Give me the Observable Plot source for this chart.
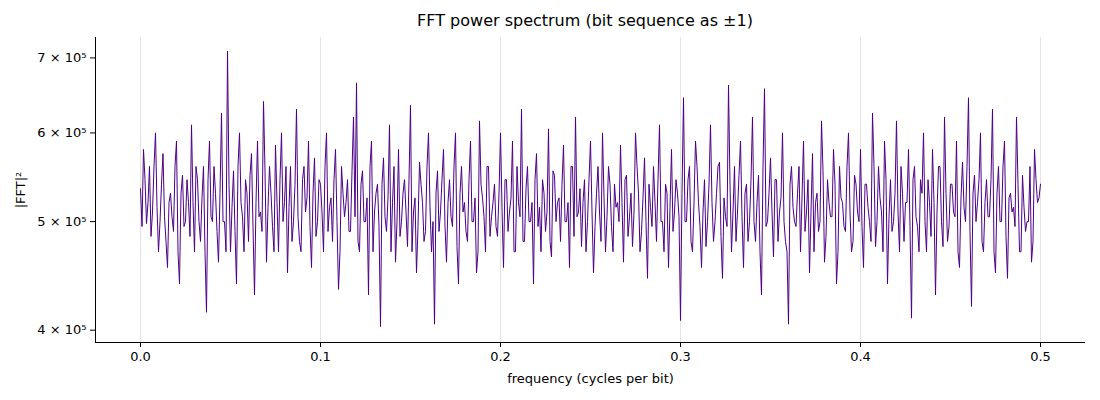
<!DOCTYPE html>
<html><head><meta charset="utf-8">
<script src="https://cdn.jsdelivr.net/npm/d3@7"></script>
<script src="https://cdn.jsdelivr.net/npm/@observablehq/plot@0.6"></script>
<style>body{margin:0;background:#fff;font-family:"DejaVu Sans",sans-serif}
#t{height:30px;line-height:30px;padding-top:6px;box-sizing:border-box;text-align:center;font-size:16px;padding-left:70px}</style>
</head><body><div id="t">FFT power spectrum (bit sequence as ±1)</div><div id="c"></div>
<script>
const freqStep = 1/1200;
// values (thousands) at even bins
const powerEvenK = [
535,580,498,560,510,600,470,540,505,455,530,490,590,440,550,500,520,610,470,545,
480,560,415,590,500,530,460,625,500,710,470,555,440,600,505,545,480,575,430,590,
510,640,460,560,495,585,470,600,520,450,560,500,630,480,545,510,590,455,570,500,
540,470,600,515,480,580,435,560,505,545,490,620,665,470,555,500,430,590,510,540,
403,570,490,610,520,460,580,500,545,475,635,510,450,565,520,490,600,470,405,555,
510,580,460,545,495,600,440,560,520,480,590,500,450,615,525,470,560,505,540,485,
600,455,545,510,590,470,520,630,480,560,500,440,575,515,545,490,605,465,550,520,
480,585,500,455,560,620,510,475,545,500,590,450,530,510,600,470,560,495,540,520,
585,460,550,505,475,600,530,490,570,445,515,560,480,610,500,540,455,580,510,530,
408,645,500,560,470,590,520,455,545,500,610,480,530,565,445,505,662,470,560,510,
590,455,540,500,620,480,550,430,657,500,570,465,545,510,600,480,405,560,500,530,
470,590,510,450,575,520,490,615,460,545,505,580,440,560,520,490,600,470,550,510,
580,455,540,500,625,475,560,510,590,440,545,500,615,470,530,520,580,410,560,495,
545,600,470,520,580,430,560,500,620,480,540,510,590,455,565,500,645,420,550,520,
600,470,545,505,630,450,560,500,590,445,530,515,620,470,550,490,500,460,580,520,
540];
// values (thousands) at odd bins
const powerOddK = [
495,545,520,485,560,515,500,575,480,520,505,560,470,530,495,545,485,520,560,500,
525,470,545,505,560,490,530,500,470,540,515,490,560,520,470,530,550,495,520,505,
490,555,515,530,470,520,545,500,560,515,480,540,505,470,560,525,495,530,485,545,
510,560,490,525,545,500,470,530,520,490,555,505,480,540,500,525,560,470,530,495,
540,505,525,470,560,500,485,530,510,545,470,525,495,540,480,560,515,500,530,490,
545,495,520,505,560,475,530,510,490,545,500,525,470,540,505,560,485,520,495,530,
515,545,490,525,470,560,505,480,535,500,520,545,495,470,530,510,480,555,500,525,
540,500,520,560,485,505,535,520,470,545,510,495,560,480,525,505,540,470,515,500,
520,545,485,530,510,560,470,525,500,540,495,520,545,500,470,530,515,490,545,505,
530,500,545,480,520,560,495,510,475,540,520,500,560,485,525,495,540,510,480,550,
505,530,480,545,500,520,470,560,495,530,510,545,480,525,500,470,540,515,495,560,
525,490,545,510,470,530,500,555,485,520,505,540,470,525,495,560,510,480,540,500,
495,540,515,480,560,500,525,470,545,505,490,530,510,560,480,520,495,545,505,470,
530,500,545,485,520,510,560,475,530,495,540,505,470,525,515,560,490,530,500,545,
480,520,505,545,470,530,500,560,485,525,510,495,540,470,515,500,560,480,545,525];
const xTicks = [0,0.1,0.2,0.3,0.4,0.5];
const yTicks = [4e5,5e5,6e5,7e5];
const data = [];
powerEvenK.forEach((v,i)=>{
  data.push({f:(2*i)*freqStep, p:v*1000});
  if (i < powerOddK.length) data.push({f:(2*i+1)*freqStep, p:powerOddK[i]*1000});
});
const xd=[-0.025,0.525], yd=[390000,730000];
const chart = Plot.plot({
  width:1100, height:370, marginLeft:95, marginRight:15, marginTop:7, marginBottom:58,
  style:{fontFamily:"DejaVu Sans", fontSize:"13px", color:"#000"},
  x:{domain:xd, ticks:xTicks, tickFormat:d3.format(".1f"), label:"frequency (cycles per bit)", labelAnchor:"center", labelArrow:"none", labelOffset:40, tickSize:5},
  y:{type:"log", domain:yd, ticks:yTicks, tickFormat:d=>`${d/1e5} × 10⁵`, label:"|FFT|²", labelAnchor:"center", labelArrow:"none", labelOffset:80, tickSize:5},
  marks:[
    Plot.gridX(xTicks,{stroke:"#b0b0b0", strokeOpacity:0.35}),
    Plot.lineY(data,{x:"f", y:"p", stroke:"#4b0082", strokeWidth:1}),
    Plot.ruleX([xd[0]],{stroke:"#000"}),
    Plot.ruleY([yd[0]],{stroke:"#000"})
  ]
});
document.getElementById("c").appendChild(chart);
</script></body></html>
